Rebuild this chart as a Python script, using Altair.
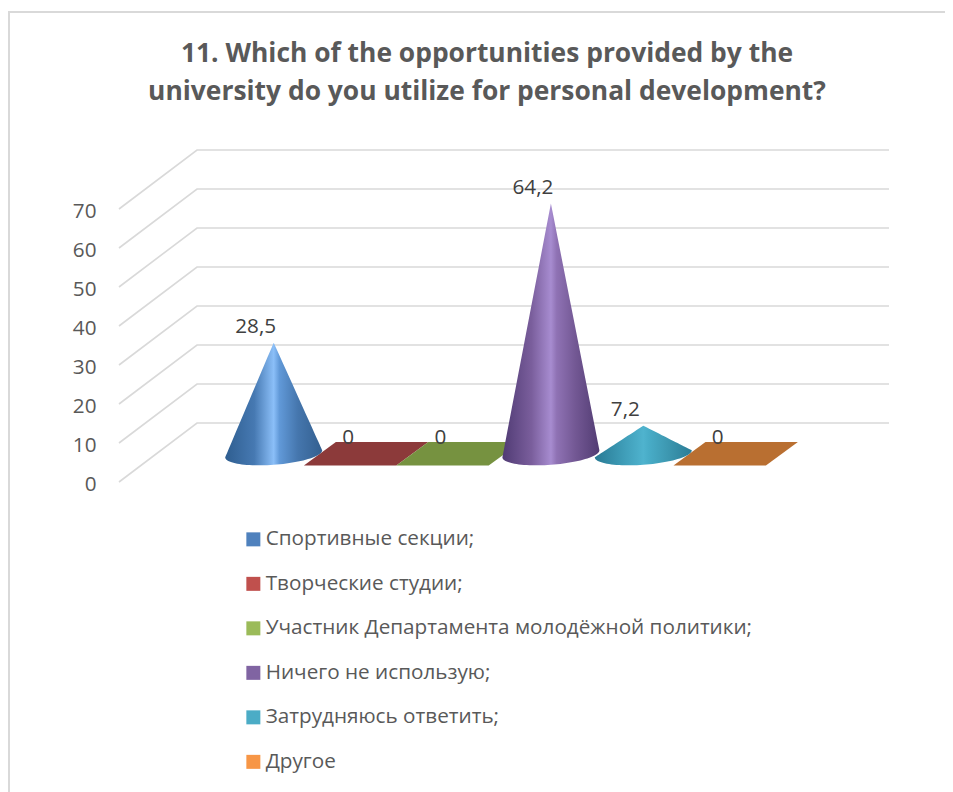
import math
import altair as alt
import pandas as pd

categories = ["Спортивные секции;", "Творческие студии;", "Участник Департамента молодёжной политики;",
              "Ничего не использую;", "Затрудняюсь ответить;", "Другое"]
values = [28.5, 0, 0, 64.2, 7.2, 0]
value_labels = ["28,5", "0", "0", "64,2", "7,2", "0"]
legend_colors = ["#4f81bd", "#c0504d", "#9bbb59", "#8064a2", "#4bacc6", "#f79646"]
plate_colors = {1: "#8c3a3a", 2: "#769240", 5: "#b96f31"}
cone_stops = {
    0: ["#2f5e90", "#4679b2", "#8bbff8", "#6199d8", "#4576ad", "#335f8f"],
    3: ["#503b74", "#7a5e9c", "#a78cd0", "#8f72b4", "#735894", "#523c73"],
    4: ["#287a94", "#3f9db8", "#4fb3ce", "#48acc7", "#3d98b1", "#2a7c96"],
}
ticks = [0, 10, 20, 30, 40, 50, 60, 70]
title_lines = ["11. Which of the opportunities provided by the",
               "university do you utilize for personal development?"]

# layout of the pseudo-3D scene
W, H = 770, 672
PX_PER_VALUE = 3.9
PX_PER_CAT = 92.4
X0 = 154.7          # first category centre inside the view
Y_TOP_PAGE, Y_ZERO_PAGE = 120, 482
x_dom = [-X0 / PX_PER_CAT, (W - X0) / PX_PER_CAT]
y_dom = [(Y_ZERO_PAGE - (Y_TOP_PAGE + H)) / PX_PER_VALUE, (Y_ZERO_PAGE - Y_TOP_PAGE) / PX_PER_VALUE]
x_scale = alt.Scale(domain=x_dom, nice=False, zero=False)
y_scale = alt.Scale(domain=y_dom, nice=False, zero=False)
DEPTH_X, DEPTH_Y = 78 / PX_PER_CAT, 59 / PX_PER_VALUE
FLOOR = (482 - 453.8) / PX_PER_VALUE
HW = 48.5 / PX_PER_CAT
RY = 11 / PX_PER_VALUE
SHEAR = 3.5 / PX_PER_VALUE
FONT = "Open Sans"
FS = 20.7

y_axis = alt.Axis(values=ticks, title=None, domain=False, ticks=False, grid=False, labelFont=FONT,
                  labelFontSize=FS, labelColor="#595959", labelPadding=23, labelOffset=2, format="d")


def X(field="x", **kw):
    return alt.X(f"{field}:Q", scale=x_scale, axis=None, **kw)


def Y(field="y", **kw):
    return alt.Y(f"{field}:Q", scale=y_scale, axis=y_axis, **kw)


layers = []

# grid: side wall + back wall
grid_rows = []
for t in ticks:
    grid_rows += [
        {"t": t, "o": 0, "x": x_dom[0], "y": t},
        {"t": t, "o": 1, "x": x_dom[0] + DEPTH_X, "y": t + DEPTH_Y},
        {"t": t, "o": 2, "x": x_dom[1], "y": t + DEPTH_Y},
    ]
layers.append(alt.Chart(pd.DataFrame(grid_rows)).mark_line(color="#d9d9d9", strokeWidth=1.6).encode(
    x=X(), y=Y(), detail="t:N", order="o:Q"))

# frame
layers.append(alt.Chart(pd.DataFrame({"a": [0]})).mark_rule(color="#d9d9d9", strokeWidth=2).encode(
    x=alt.value(-111), x2=alt.value(826), y=alt.value(12 - Y_TOP_PAGE)))
layers.append(alt.Chart(pd.DataFrame({"a": [0]})).mark_rule(color="#d9d9d9", strokeWidth=2).encode(
    x=alt.value(-110), y=alt.value(12 - Y_TOP_PAGE), y2=alt.value(H)))

# zero-height plates
PLATE_HW, PLATE_SKEW, PLATE_H = 46.2 / PX_PER_CAT, 16 / PX_PER_CAT, 11.7 / PX_PER_VALUE
for i, col in plate_colors.items():
    rows = [
        {"y": FLOOR - PLATE_H, "x": i - PLATE_HW - PLATE_SKEW, "x2": i + PLATE_HW - PLATE_SKEW},
        {"y": FLOOR + PLATE_H, "x": i - PLATE_HW + PLATE_SKEW, "x2": i + PLATE_HW + PLATE_SKEW},
    ]
    layers.append(alt.Chart(pd.DataFrame(rows)).mark_area(orient="horizontal", color=col).encode(
        y=Y(), x=X(), x2="x2:Q"))

# cones
offsets = [0, 0.3, 0.5, 0.56, 0.75, 1]
for i, stops in cone_stops.items():
    top = FLOOR + values[i]
    rows = []
    n = 48
    for k in range(n + 1):
        th = math.pi * (1 - k / n)
        c = math.cos(th)
        if abs(c) < 1e-9:
            c = 0.0
        left_y, right_y = FLOOR - SHEAR, FLOOR + SHEAR
        up = (top + (left_y - top) * (-c)) if c <= 0 else (top + (right_y - top) * c)
        rows.append({"x": i + HW * c, "y": up, "y2": FLOOR + SHEAR * c - RY * math.sin(th)})
    grad = alt.LinearGradient(gradient="linear", x1=0, x2=1, y1=0, y2=0,
                              stops=[alt.GradientStop(color=s, offset=o) for s, o in zip(stops, offsets)])
    layers.append(alt.Chart(pd.DataFrame(rows)).mark_area(color=grad).encode(x=X(), y=Y(), y2="y2:Q"))

# data labels and legend source
df = pd.DataFrame({"cat": categories, "i": range(6), "v": values, "lab": value_labels})
df["lx"] = df["i"] - 18 / PX_PER_CAT
df["ly"] = FLOOR + df["v"] + 15.5 / PX_PER_VALUE
layers.append(alt.Chart(df).mark_text(font=FONT, fontSize=FS, color="#404040", baseline="middle").encode(
    x=X("lx"), y=Y("ly"), text="lab:N"))
layers.append(alt.Chart(df).mark_square(size=0).encode(
    x=X("i"), y=Y("v"),
    color=alt.Color("cat:N", scale=alt.Scale(domain=categories, range=legend_colors),
                    legend=alt.Legend(orient="none", legendX=124, legendY=529 - Y_TOP_PAGE,
                                      title=None, symbolType="square", symbolSize=196, symbolStrokeWidth=0,
                                      symbolOpacity=1, labelFont=FONT, labelFontSize=FS, labelColor="#595959",
                                      labelLimit=700, rowPadding=22.5, labelOffset=2, padding=0))))

chart = alt.layer(*layers).properties(
    width=W, height=H,
    autosize=alt.AutoSizeParams(type="none"),
    padding={"left": 111, "top": 112, "right": 56, "bottom": 0},
    title=alt.TitleParams(text=title_lines, font=FONT, fontSize=26.4, fontWeight="bold", color="#595959",
                          lineHeight=38, anchor="middle", dx=-17, offset=-94.5),
).configure_view(stroke=None)

chart.save("out.html", embed_options={"renderer": "svg", "actions": False})
